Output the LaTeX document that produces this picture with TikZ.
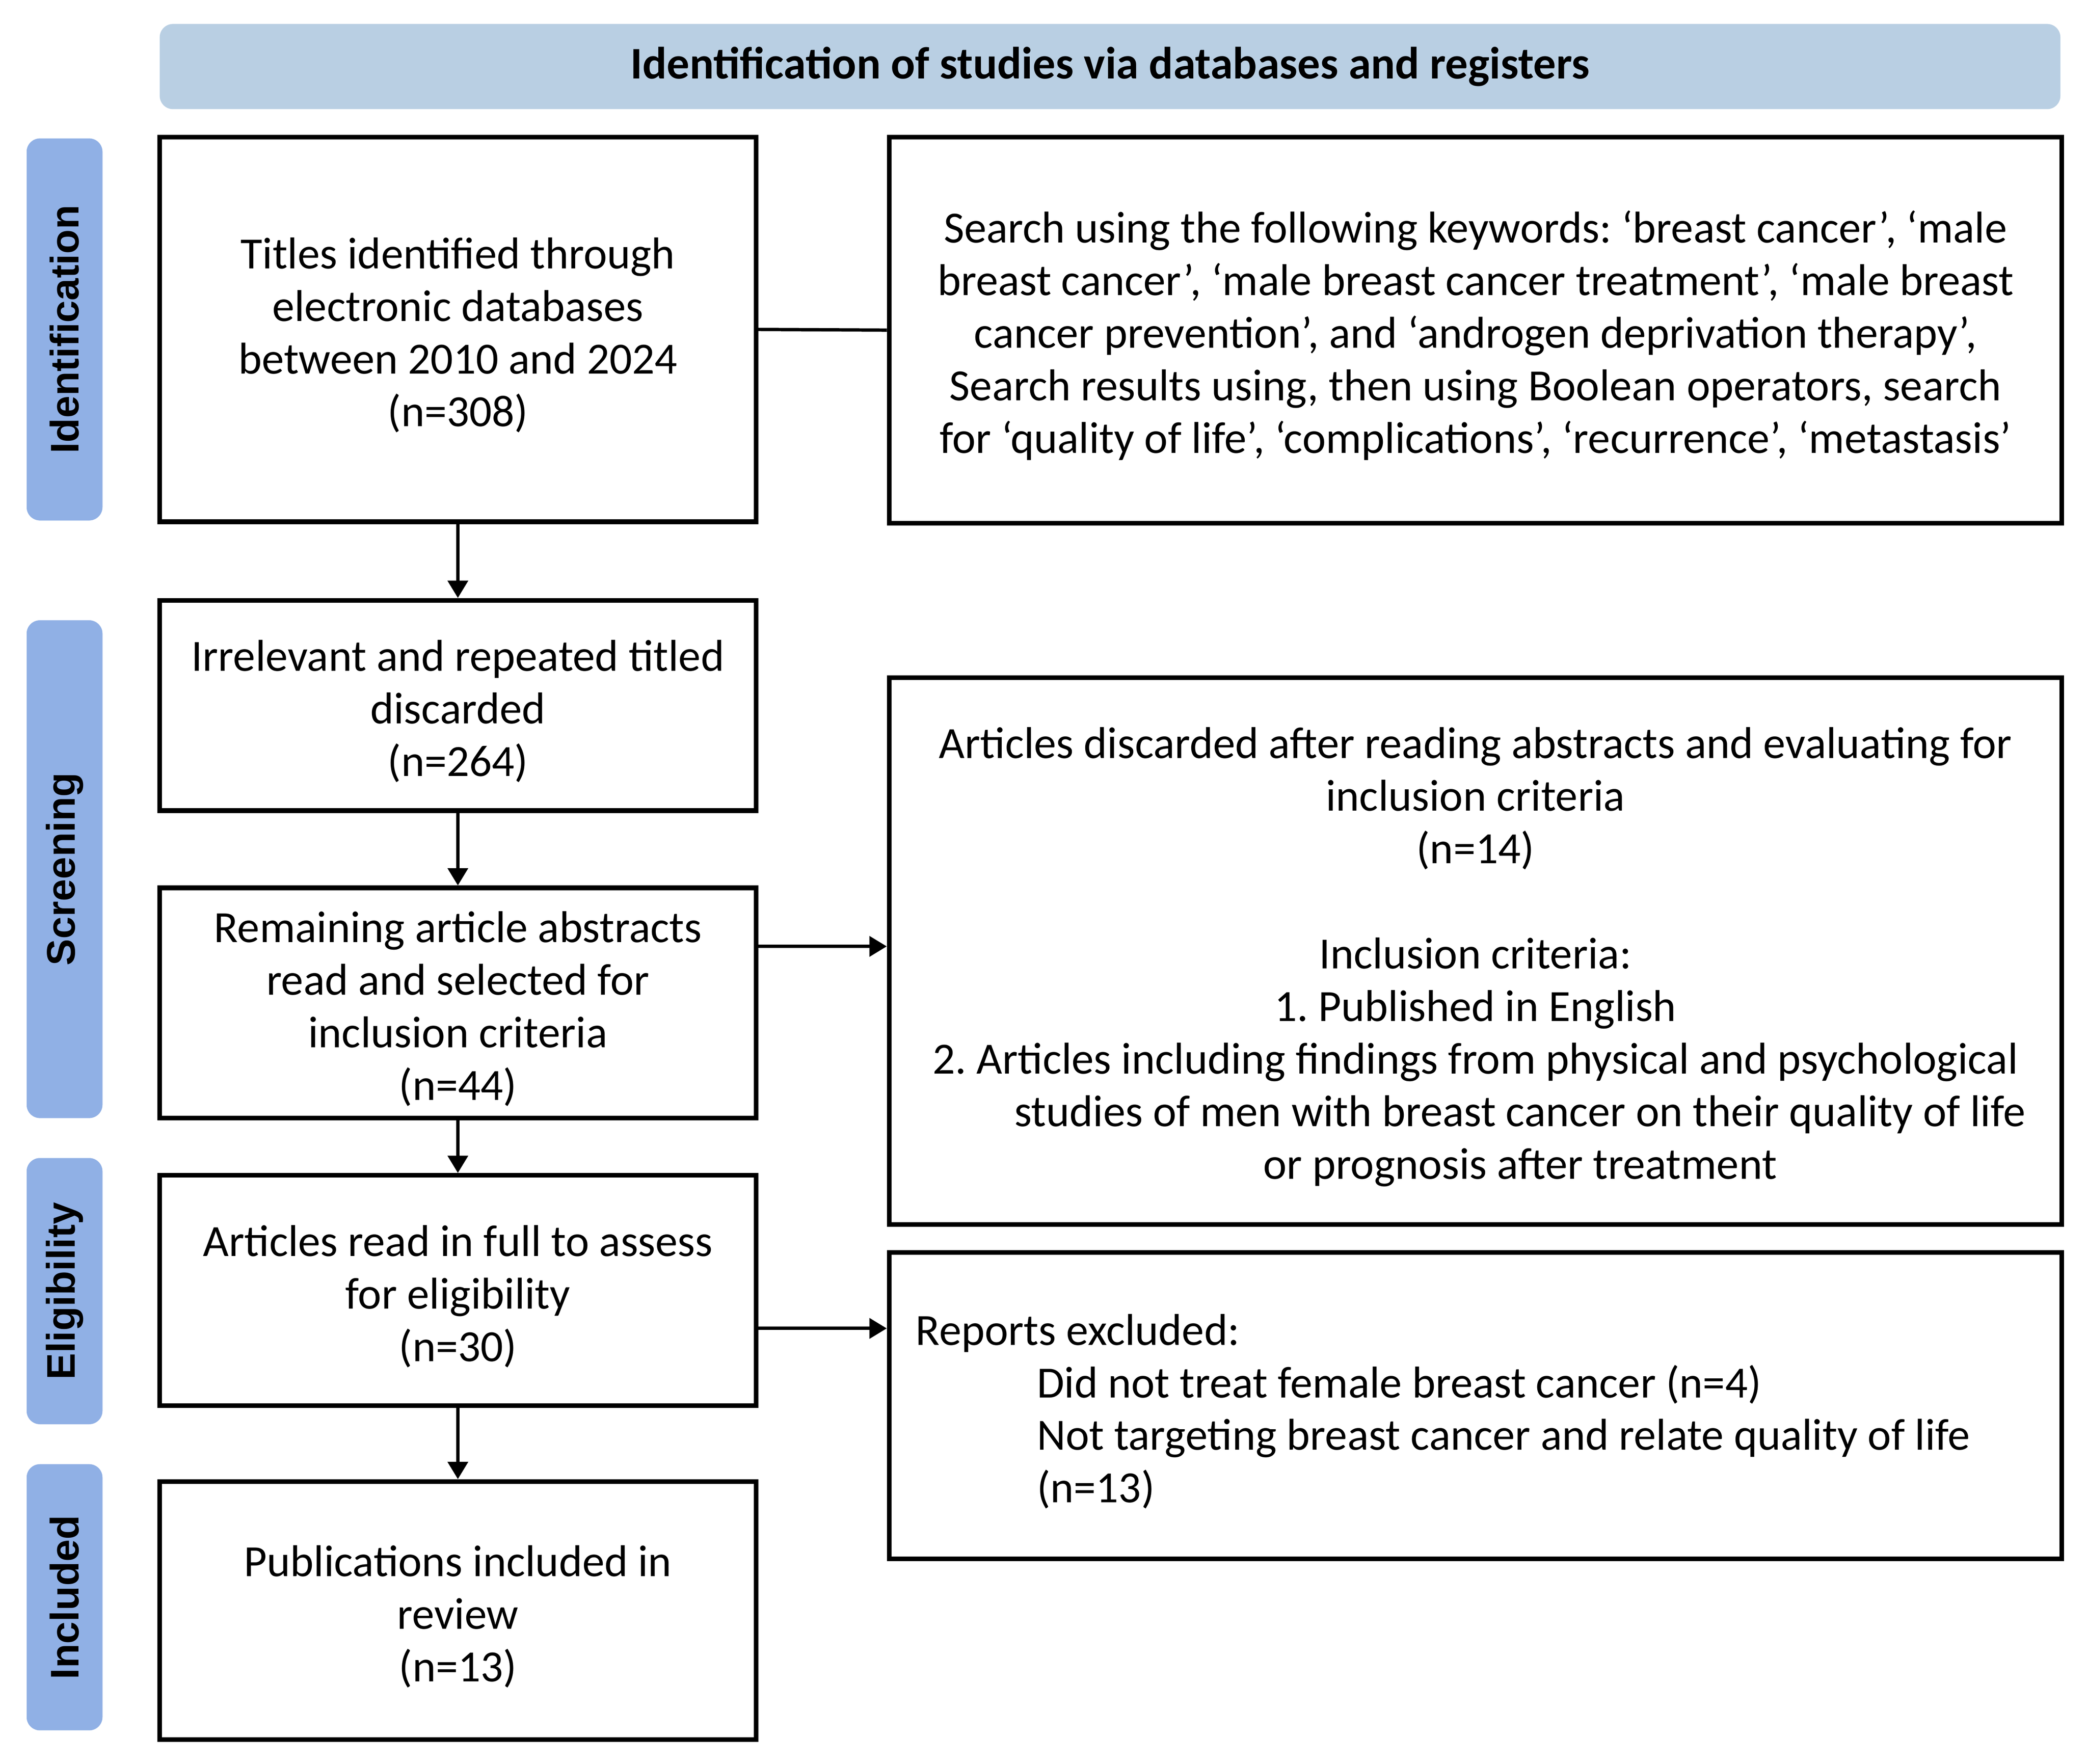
\documentclass[tikz,border=0pt]{standalone}
\usepackage{fontspec}
\setmainfont{Carlito}
\newfontfamily\labelfont{Liberation Sans}
\usetikzlibrary{arrows.meta}
\frenchspacing
\definecolor{headblue}{RGB}{185,207,227}
\definecolor{sideblue}{RGB}{144,176,229}
\newcommand\tstrut{\rule{0pt}{32pt}}
\tikzset{
  box/.style={draw=black, line width=3.5pt, fill=white, rectangle, inner sep=5pt,
    align=center, font=\fontsize{33.5}{39.5}\selectfont},
  side/.style={fill=sideblue, rounded corners=10pt, rectangle, rotate=90, inner sep=0pt,
    minimum height=57pt, font=\labelfont\bfseries\fontsize{30}{36}\selectfont},
  header/.style={fill=headblue, rounded corners=10pt, rectangle, inner sep=0pt,
    minimum width=1428pt, minimum height=64pt, font=\bfseries\fontsize{34}{40}\selectfont},
  arr/.style={line width=2.5pt, -{Triangle[length=13pt,width=15pt]}},
  link/.style={line width=2.5pt}
}
\begin{document}
\begin{tikzpicture}[x=1pt,y=-1pt]
\useasboundingbox (0,0) rectangle (1568,1325);
\fill[white] (0,0) rectangle (1568,1325);

\node[header] (hdr) at (834,50) {Identification of studies via databases and registers};

\node[side, minimum width=287pt] (s1) at (48.5,247.5) {Identification};
\node[side, minimum width=374pt] (s2) at (48.5,653) {Screening};
\node[side, minimum width=200pt] (s3) at (48.5,970) {Eligibility};
\node[side, minimum width=200pt] (s4) at (48.5,1200) {Included};

\node[box, minimum width=448pt, minimum height=289pt] (A) at (344,247.5)
  {\tstrut Titles identified through\\ electronic databases\\ between 2010 and 2024\\ (n=308)};
\node[box, minimum width=881pt, minimum height=290pt] (B) at (1108.5,248)
  {\tstrut Search using the following keywords: ‘breast cancer’, ‘male\\
   breast cancer’, ‘male breast cancer treatment’, ‘male breast\\
   cancer prevention’, and ‘androgen deprivation therapy’,\\
   Search results using, then using Boolean operators, search\\
   for ‘quality of life’, ‘complications’, ‘recurrence’, ‘metastasis’};
\node[box, minimum width=448pt, minimum height=158pt] (C) at (344,530)
  {\tstrut Irrelevant and repeated titled\\ discarded\\ (n=264)};
\node[box, minimum width=448pt, minimum height=173pt] (D) at (344,753.5)
  {\tstrut Remaining article abstracts\\ read and selected for\\ inclusion criteria\\ (n=44)};
\node[box, minimum width=881pt, minimum height=411pt] (E) at (1108.5,714.5)
  {\tstrut Articles discarded after reading abstracts and evaluating for\\
   inclusion criteria\\ (n=14)\\ \mbox{}\\ Inclusion criteria:\\
   1. Published in English\\
   2. Articles including findings from physical and psychological\\
   \hspace*{67pt}studies of men with breast cancer on their quality of life\\
   \hspace*{67pt}or prognosis after treatment};
\node[box, minimum width=881pt, minimum height=230pt, align=flush left, inner xsep=20pt,
      text width=841pt] (G) at (1108.5,1056)
  {\tstrut Reports excluded:\\
   \hspace*{91pt}Did not treat female breast cancer (n=4)\\
   \hspace*{91pt}Not targeting breast cancer and relate quality of life\\
   \hspace*{91pt}(n=13)};
\node[box, minimum width=448pt, minimum height=173pt] (F) at (344,969.5)
  {\tstrut Articles read in full to assess\\ for eligibility\\ (n=30)};
\node[box, minimum width=448pt, minimum height=194pt] (H) at (344,1210)
  {\tstrut Publications included in\\ review\\ (n=13)};

\draw[link] (A.east) -- (B.west);
\draw[arr] (A.south) -- (C.north);
\draw[arr] (C.south) -- (D.north);
\draw[arr] (D.south) -- (F.north);
\draw[arr] (F.south) -- (H.north);
\draw[arr] ([yshift=42.5pt]D.east) -- ([yshift=42.5pt]D.east -| E.west);
\draw[arr] ([yshift=-28.5pt]F.east) -- ([yshift=-28.5pt]F.east -| G.west);
\end{tikzpicture}
\end{document}
